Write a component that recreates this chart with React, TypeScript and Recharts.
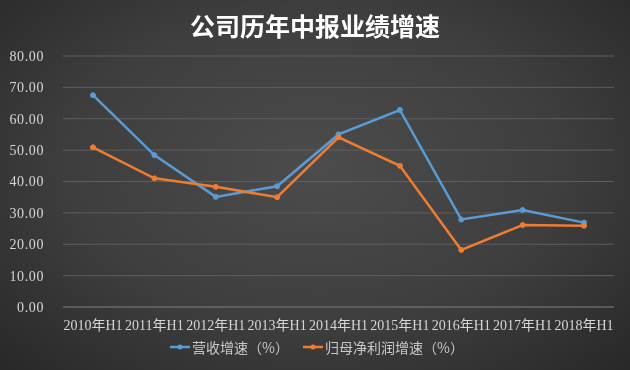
import React from 'react';
import { LineChart, Line, XAxis, YAxis, CartesianGrid, Legend } from 'recharts';

const CATEGORIES = ['2010年H1', '2011年H1', '2012年H1', '2013年H1', '2014年H1', '2015年H1', '2016年H1', '2017年H1', '2018年H1'];
const REVENUE_GROWTH = [67.5, 48.4, 35.1, 38.5, 55.0, 62.8, 27.9, 30.9, 26.9];
const PROFIT_GROWTH = [50.9, 41.0, 38.3, 35.0, 54.1, 45.0, 18.2, 26.1, 25.9];
const Y_TICKS = [0, 10, 20, 30, 40, 50, 60, 70, 80];

const SERIES = [
  { key: 'revenue', name: '营收增速（%）', color: '#5b9bd5' },
  { key: 'profit', name: '归母净利润增速（%）', color: '#ed7d31' },
];

const data = CATEGORIES.map((c, i) => ({ name: c, revenue: REVENUE_GROWTH[i], profit: PROFIT_GROWTH[i] }));

const SERIF = "'Liberation Serif', 'Noto Sans CJK SC', serif";

// legend item: short line with a dot in the middle, like the Excel marker line
const renderLegend = () => (
  <div style={{ display: 'flex', justifyContent: 'center', gap: 14, marginLeft: 20, fontFamily: "'Noto Sans CJK SC', sans-serif", fontSize: 14, color: '#c8c8c8' }}>
    {SERIES.map(s => (
      <div key={s.key} style={{ display: 'flex', alignItems: 'center' }}>
        <svg width={20} height={10} style={{ marginRight: 2 }}>
          <line x1={0} y1={5} x2={20} y2={5} stroke={s.color} strokeWidth={2.5} />
          <circle cx={10} cy={5} r={2.5} fill={s.color} />
        </svg>
        <span>{s.name}</span>
      </div>
    ))}
  </div>
);

export default function App() {
  return (
    <div style={{
      position: 'fixed', left: 0, top: 0, width: 630, height: 370,
      background: 'radial-gradient(ellipse at 50% 45%, #4c4c4c 0%, #3e3e3e 55%, #282828 100%)',
    }}>
      <div style={{
        position: 'absolute', top: 7, left: 0, width: 630, textAlign: 'center',
        fontFamily: "'Noto Sans CJK SC', sans-serif", fontWeight: 700, fontSize: 25, color: '#ffffff',
      }}>
        公司历年中报业绩增速
      </div>
      <LineChart width={630} height={370} data={data} margin={{ top: 56, right: 16, bottom: 13, left: 0 }}>
        <CartesianGrid vertical={false} stroke="#5e5e5e" strokeWidth={1} />
        <XAxis
          dataKey="name"
          padding={{ left: 30, right: 30 }}
          axisLine={{ stroke: '#6e6e6e' }}
          tickLine={false}
          tickMargin={7}
          interval={0}
          height={30}
          tick={{ fill: '#d6d6d6', fontSize: 14, fontFamily: SERIF }}
        />
        <YAxis
          domain={[0, 80]}
          ticks={Y_TICKS}
          width={63}
          axisLine={false}
          tickLine={false}
          tickSize={0}
          tickMargin={19}
          tickFormatter={(v: number) => v.toFixed(2)}
          tick={{ fill: '#d6d6d6', fontSize: 14, fontFamily: SERIF, letterSpacing: 0.6 }}
        />
        <Legend verticalAlign="bottom" content={renderLegend} />
        {SERIES.map(s => (
          <Line
            key={s.key}
            type="linear"
            dataKey={s.key}
            name={s.name}
            stroke={s.color}
            strokeWidth={2.5}
            dot={{ r: 2.5, fill: s.color, stroke: s.color, strokeWidth: 1 }}
            isAnimationActive={false}
          />
        ))}
      </LineChart>
    </div>
  );
}
